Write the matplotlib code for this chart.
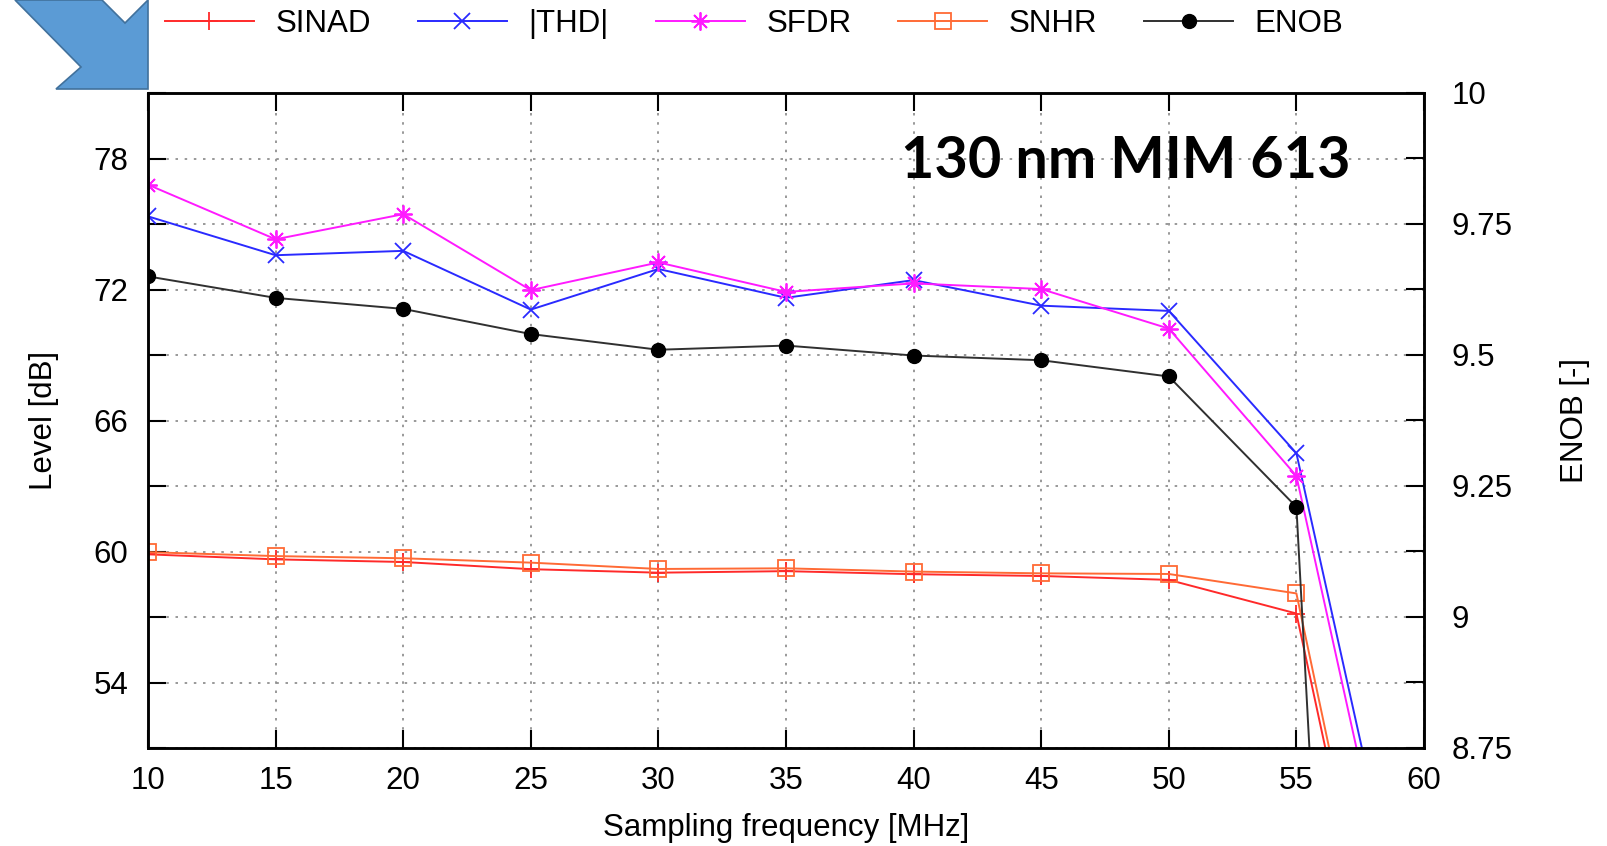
import numpy as np
import matplotlib
matplotlib.use('Agg')
import matplotlib.pyplot as plt
from matplotlib.patches import Polygon
from matplotlib.ticker import MultipleLocator

# sampling frequency [MHz]
freq = [10, 15, 20, 25, 30, 35, 40, 45, 50, 55, 60]
# levels [dB]
sinad = [59.87, 59.64, 59.52, 59.19, 59.03, 59.10, 58.96, 58.88, 58.70, 57.16, 30.0]
thd = [75.35, 73.57, 73.77, 71.08, 72.94, 71.62, 72.43, 71.26, 71.02, 64.50, 38.2]
sfdr = [76.80, 74.30, 75.45, 71.97, 73.24, 71.89, 72.28, 72.02, 70.21, 63.46, 37.0]
snhr = [59.97, 59.79, 59.69, 59.49, 59.20, 59.23, 59.08, 59.00, 58.97, 58.08, 30.5]
# effective number of bits
enob = [9.650, 9.609, 9.588, 9.540, 9.510, 9.518, 9.499, 9.490, 9.459, 9.210, 4.7]

title = '130 nm MIM 613'

plt.rcParams['font.family'] = ['Liberation Sans', 'DejaVu Sans']
W, H = 1608, 846
fig = plt.figure(figsize=(W / 100, H / 100), dpi=100)
ax = fig.add_axes([148 / W, 1 - 748 / H, (1424 - 148) / W, (748 - 93) / H])
ax2 = ax.twinx()

fs = 22.5
lw = 1.4
l1, = ax.plot(freq, sinad, color='#ff2a2a', lw=lw, marker='+', ms=13, mew=1.3, label='SINAD')
l2, = ax.plot(freq, thd, color='#2a2aff', lw=lw, marker='x', ms=12, mew=1.3, label='|THD|')
l3, = ax.plot(freq, sfdr, color='#ff1aff', lw=lw, marker=(8, 2, 0), ms=13, mew=1.3, label='SFDR')
l4, = ax.plot(freq, snhr, color='#ff6a35', lw=lw, marker='s', ms=11, mew=1.3,
              mfc='none', label='SNHR')
l5, = ax2.plot(freq, enob, color='#303030', lw=lw, marker='o', ms=10, mfc='black',
               mec='black', label='ENOB')

ax.set_xlim(10, 60)
ax.set_ylim(51, 81)
ax2.set_ylim(8.75, 10)

ax.xaxis.set_major_locator(MultipleLocator(5))
ax.yaxis.set_major_locator(MultipleLocator(6))
ax.yaxis.set_minor_locator(MultipleLocator(3))
ax2.yaxis.set_minor_locator(MultipleLocator(0.125))
ax2.set_yticks([8.75, 9, 9.25, 9.5, 9.75, 10])
ax2.set_yticklabels(['8.75', '9', '9.25', '9.5', '9.75', '10'])

ax.grid(True, which='both', axis='y', ls=(0, (1.5, 4)), color='#888888', lw=1.2)
ax.grid(True, which='major', axis='x', ls=(0, (1.5, 4)), color='#888888', lw=1.2)

ax.tick_params(axis='x', which='major', direction='in', length=13, width=1.5,
               top=True, labelsize=fs, pad=13)
ax.tick_params(axis='y', which='both', direction='in', length=13, width=1.5,
               right=False, labelsize=fs, pad=14)
ax2.tick_params(axis='y', which='both', direction='in', length=13, width=1.5,
                labelsize=fs, pad=20)
for a in (ax, ax2):
    for s in a.spines.values():
        s.set_linewidth(1.8)

ax.set_xlabel('Sampling frequency [MHz]', fontsize=fs, labelpad=12)
ax.set_ylabel('Level [dB]', fontsize=fs, labelpad=25)
ax2.set_ylabel('ENOB [-]', fontsize=fs, labelpad=34)

ax.text(0.7665, 0.896, title, transform=ax.transAxes, ha='center', va='center',
        fontsize=41.5, fontweight='bold', family=['Lato', 'DejaVu Sans'])

fig.legend(handles=[l1, l2, l3, l4, l5], loc='upper center', ncol=5, frameon=False,
           fontsize=fs, handlelength=2.85, handletextpad=0.69, columnspacing=1.5,
           bbox_to_anchor=(0.469, 1.023))

# blue block arrow in the top-left corner (pixel outline)
arrow_px = [(15, 0), (102, 0), (125, 23), (148, 0), (148, 89), (56, 89), (81, 67)]
fig.patches.append(Polygon([(x / W, 1 - y / H) for x, y in arrow_px], closed=True,
                           transform=fig.transFigure, facecolor='#5b9bd5',
                           edgecolor='#41719c', lw=1.2))

fig.savefig('out.png', dpi=100)
